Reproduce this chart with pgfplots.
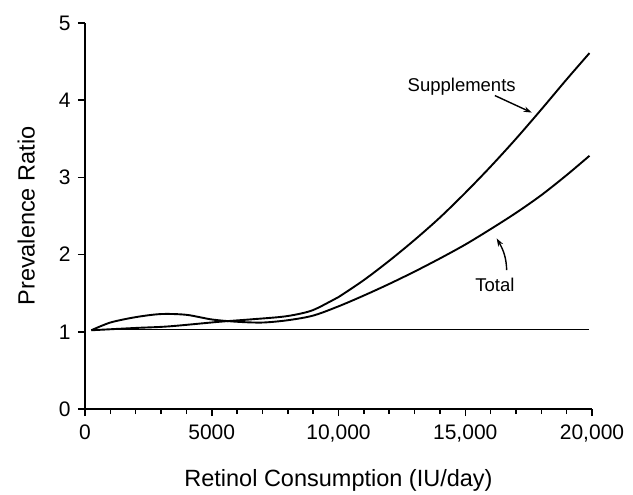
\documentclass[border=0pt]{standalone}
\usepackage{fontspec}
\setmainfont{Liberation Sans}
\usepackage{pgfplots}
\usepackage{pgfplotstable}
\pgfplotsset{compat=1.18}
\usetikzlibrary{arrows.meta}

% prevalence ratio by retinol intake
\pgfplotstableread{
x      y
250    1.02
1000   1.12
2000   1.19
3000   1.23
4000   1.22
5000   1.16
6000   1.13
7000   1.12
8000   1.15
9000   1.21
10000  1.33
11000  1.47
12000  1.62
13000  1.78
14000  1.95
15000  2.13
16000  2.33
17000  2.54
18000  2.77
19000  3.03
19900  3.28
}\totaldata

\pgfplotstableread{
x      y
250    1.02
2000   1.05
3300   1.07
5300   1.13
6500   1.16
7900   1.20
8900   1.27
9660   1.39
10000  1.45
11000  1.67
12000  1.92
13000  2.19
14000  2.48
15000  2.80
16000  3.14
17000  3.50
18000  3.88
19000  4.27
19900  4.61
}\suppdata

\pgfplotstableread{
x      y
250    1.03
19900  1.03
}\refline

\begin{document}
\begin{tikzpicture}
\begin{axis}[
  name=ax,
  scale only axis,
  width=507bp, height=386bp,
  xmin=0, xmax=20000, ymin=0, ymax=5,
  axis lines=left,
  axis line style={-, line width=2bp},
  tick align=outside,
  major tick length=7bp,
  minor tick length=5bp,
  tick style={line width=1.5bp, black},
  xtick={0,5000,10000,15000,20000},
  xticklabels={0,5000,{10,000},{15,000},{20,000}},
  scaled x ticks=false,
  minor x tick num=4,
  ytick={0,1,2,3,4,5},
  /pgf/number format/assume math mode=true,
  ticklabel style={font=\fontsize{21bp}{24bp}\selectfont},
  xticklabel shift=5bp,
  yticklabel shift=4bp,
  label style={font=\fontsize{23.5bp}{27bp}\selectfont},
  xlabel={Retinol Consumption (IU/day)},
  ylabel={Prevalence Ratio},
  xlabel shift=21bp,
  ylabel shift=17bp,
  clip=false,
]
\addplot[black, line width=1.9bp, smooth, tension=0.5] table {\totaldata};
\addplot[black, line width=1.9bp, smooth, tension=0.5] table {\suppdata};
\addplot[black, line width=1.7bp] table {\refline};

\node[font=\fontsize{18.5bp}{21bp}\selectfont] at (axis cs:14860,4.17) {Supplements};
\draw[-{Stealth[length=8bp,width=5.5bp]}, line width=1.4bp] (axis cs:16170,4.06) -- (axis cs:17620,3.84);
\node[font=\fontsize{18.5bp}{21bp}\selectfont] at (axis cs:16170,1.61) {Total};
\draw[-{Stealth[length=8bp,width=5.5bp]}, line width=1.4bp] (axis cs:16635,1.80) to[out=92,in=-60] (axis cs:16240,2.21);
\end{axis}
\path ([shift={(-85bp,-81bp)}]ax.south west) rectangle ([shift={(548bp,409bp)}]ax.south west);
\end{tikzpicture}
\end{document}
